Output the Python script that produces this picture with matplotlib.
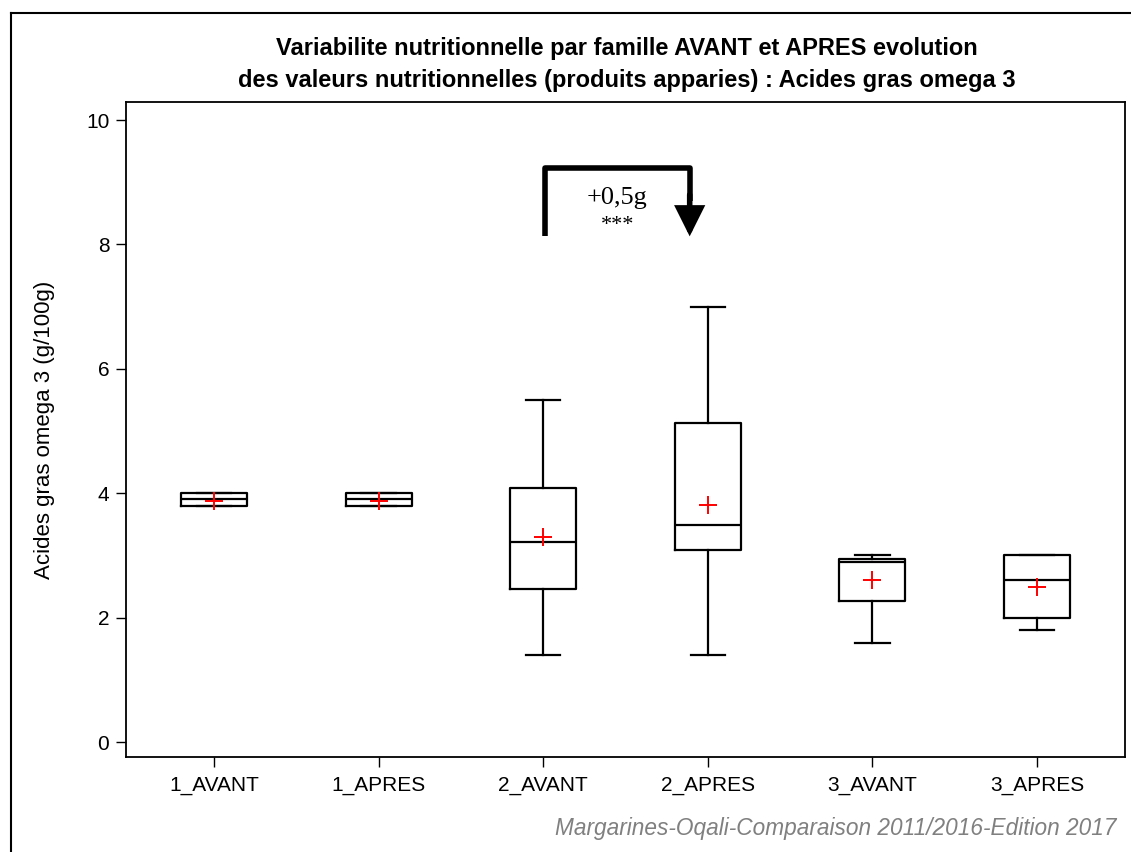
import matplotlib
matplotlib.use("Agg")
import matplotlib.pyplot as plt
from matplotlib.lines import Line2D

plt.rcParams["font.family"] = ["Liberation Sans", "DejaVu Sans"]

categories = ["1_AVANT", "1_APRES", "2_AVANT", "2_APRES", "3_AVANT", "3_APRES"]
whisker_low = [3.8, 3.8, 1.4, 1.4, 1.6, 1.8]
q1 = [3.8, 3.8, 2.46, 3.09, 2.27, 2.0]
median = [3.9, 3.9, 3.21, 3.49, 2.9, 2.6]
q3 = [4.0, 4.0, 4.08, 5.13, 2.94, 3.0]
whisker_high = [4.0, 4.0, 5.5, 7.0, 3.0, 3.0]
means = [3.88, 3.88, 3.29, 3.81, 2.6, 2.49]

annot_text = "+0,5g"
annot_sig = "***"

fig = plt.figure(figsize=(11.31, 8.52), dpi=100)
ax = fig.add_axes([0.1114, 0.1115, 0.8833, 0.7688])

stats = []
for i, name in enumerate(categories):
    stats.append({
        "label": name,
        "whislo": whisker_low[i],
        "q1": q1[i],
        "med": median[i],
        "q3": q3[i],
        "whishi": whisker_high[i],
        "mean": means[i],
        "fliers": [],
    })

positions = list(range(len(categories)))
ax.bxp(stats, positions=positions, widths=0.40, capwidths=0.21,
       showmeans=True, patch_artist=False,
       boxprops=dict(color="black", linewidth=1.6),
       whiskerprops=dict(color="black", linewidth=1.6),
       capprops=dict(color="black", linewidth=1.6),
       medianprops=dict(color="black", linewidth=1.6),
       meanprops=dict(marker="+", markeredgecolor="red", markersize=13,
                      markeredgewidth=1.4, linestyle="none"))

ax.set_xlim(-0.535, 5.535)
ax.set_ylim(-0.24, 10.29)
ax.set_yticks([0, 2, 4, 6, 8, 10])
ax.set_xticks(positions)
ax.set_xticklabels(categories)
ax.tick_params(axis="both", labelsize=15, length=7, width=1, colors="black")
ax.tick_params(axis="y", pad=5)
ax.tick_params(axis="x", pad=7)
for s in ax.spines.values():
    s.set_linewidth(1.3)

ax.set_ylabel("Acides gras omega 3 (g/100g)", fontsize=16, labelpad=22)

# annotation arrow between 2_AVANT and 2_APRES
ax.plot([2.01, 2.01, 2.89, 2.89], [8.13, 9.23, 9.23, 8.7], color="black",
        linewidth=4, solid_joinstyle="round", solid_capstyle="butt")
ax.annotate("", xy=(2.89, 8.13), xytext=(2.89, 8.8),
            arrowprops=dict(arrowstyle="-|>", color="black", lw=4,
                            mutation_scale=40, shrinkA=0, shrinkB=0,
                            joinstyle="miter"))
ax.text(2.45, 8.74, annot_text, ha="center", va="center", fontsize=19,
        family=["Liberation Serif", "DejaVu Serif"])
ax.text(2.45, 8.3, annot_sig, ha="center", va="center", fontsize=16,
        family=["Liberation Serif", "DejaVu Serif"])

fig.suptitle("Variabilite nutritionnelle par famille AVANT et APRES evolution\n"
             "des valeurs nutritionnelles (produits apparies) : Acides gras omega 3",
             x=0.554, y=0.956, fontsize=17, fontweight="bold", linespacing=1.5)

fig.text(0.987, 0.027, "Margarines-Oqali-Comparaison 2011/2016-Edition 2017",
         ha="right", va="center", fontsize=16.3, style="italic", color="#808080")

# outer frame (left and top only, as cropped)
fig.add_artist(Line2D([11 / 1131, 11 / 1131], [0, 1 - 13 / 852], color="black",
                      linewidth=1.5, transform=fig.transFigure))
fig.add_artist(Line2D([11 / 1131, 1], [1 - 13 / 852, 1 - 13 / 852], color="black",
                      linewidth=1.5, transform=fig.transFigure))

fig.savefig("out.png", dpi=100)
plt.close(fig)
